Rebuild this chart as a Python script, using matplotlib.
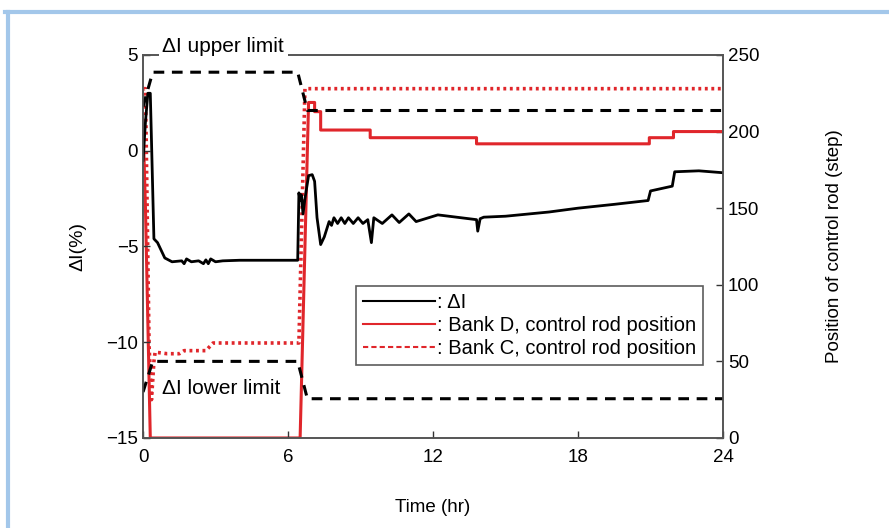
import matplotlib
matplotlib.use("Agg")
import matplotlib.pyplot as plt
from matplotlib.lines import Line2D

plt.rcParams['font.family'] = ['Liberation Sans', 'DejaVu Sans']

# delta I (%), left axis
t_di = [0, 0.1, 0.2, 0.3, 0.35, 0.45, 0.6, 0.9, 1.2, 1.6, 1.7, 1.8, 2.0, 2.3, 2.5, 2.6,
        2.7, 2.8, 3.0, 3.3, 4.0, 5.0, 6.4, 6.45, 6.5, 6.55, 6.62, 6.7, 6.85, 7.0, 7.1,
        7.2, 7.35, 7.5, 7.7, 7.8, 7.9, 8.05, 8.2, 8.35, 8.5, 8.7, 8.9, 9.1, 9.3, 9.45,
        9.55, 9.9, 10.3, 10.6, 11.0, 11.3, 12.2, 13.8, 13.85, 13.95, 14.1, 15.0, 16.8,
        18.0, 19.5, 20.9, 21.0, 21.9, 22.0, 23.0, 24.0]
di = [-0.5, 1.5, 3.0, 3.0, 0.5, -4.6, -4.8, -5.6, -5.8, -5.75, -5.9, -5.65, -5.8, -5.75,
      -5.9, -5.7, -5.9, -5.65, -5.8, -5.75, -5.72, -5.72, -5.72, -2.2, -2.6, -2.3, -3.3,
      -2.5, -1.3, -1.25, -1.6, -3.5, -4.9, -4.5, -3.7, -3.9, -3.5, -3.8, -3.5, -3.8,
      -3.5, -3.8, -3.5, -3.8, -3.6, -4.8, -3.5, -3.8, -3.35, -3.75, -3.3, -3.7, -3.35,
      -3.6, -4.2, -3.55, -3.47, -3.42, -3.2, -3.0, -2.8, -2.6, -2.1, -1.85, -1.1, -1.05,
      -1.15]

# delta I limits (%), left axis
t_lim = [0, 0.4, 6.4, 6.8, 24]
upper_lim = [2.3, 4.1, 4.1, 2.1, 2.1]
lower_lim = [-12.6, -11.0, -11.0, -12.95, -12.95]

# control rod positions (step), right axis
t_bank_d = [0, 0.1, 0.3, 6.5, 6.85, 7.1, 7.1, 7.35, 7.35, 9.4, 9.4, 13.8, 13.8, 20.95,
            20.95, 21.95, 21.95, 24]
bank_d = [205, 150, 0, 0, 219, 219, 213, 213, 201, 201, 196, 196, 192, 192, 196, 196,
          200, 200]
t_bank_c = [0, 0.1, 0.25, 0.35, 0.45, 0.5, 1.0, 1.5, 1.7, 2.6, 2.9, 6.45, 6.7, 24]
bank_c = [228, 228, 60, 25, 50, 56, 55, 55, 57, 57, 62, 62, 228, 228]

xticks = [0, 6, 12, 18, 24]
yticks_left = [-15, -10, -5, 0, 5]
yticks_right = [0, 50, 100, 150, 200, 250]

fig = plt.figure(figsize=(8.89, 5.28), dpi=100)
ax = fig.add_axes([0.1609, 0.1705, 0.6524, 0.7254])
ax2 = ax.twinx()

red = '#e0262b'
ax2.plot(t_bank_c, bank_c, color=red, lw=2.6, ls=(0, (0.8, 1.0)))
ax2.plot(t_bank_d, bank_d, color=red, lw=2.2)
ax.plot(t_lim, upper_lim, color='black', lw=2.2, ls=(0, (3.5, 2.5)))
ax.plot(t_lim, lower_lim, color='black', lw=2.2, ls=(0, (3.5, 2.5)))
ax.plot(t_di, di, color='black', lw=2.0)

ax.set_zorder(ax2.get_zorder() + 1)
ax.patch.set_visible(False)

ax.set_xlim(0, 24)
ax.set_ylim(-15, 5)
ax2.set_ylim(0, 250)
ax.set_xticks(xticks)
ax.set_yticks(yticks_left)
ax.set_yticklabels(['\u221215', '\u221210', '\u22125', '0', '5'])
ax2.set_yticks(yticks_right)
for a in (ax, ax2):
    a.tick_params(direction='in', length=5, width=1, labelsize=13.5, color='#333333')
    for s in a.spines.values():
        s.set_color('#555555')
        s.set_linewidth(1.2)
ax.tick_params(axis='x', pad=8)

ax.set_xlabel('Time (hr)', fontsize=13.5, labelpad=24)
ax.set_ylabel('\u0394I(%)', fontsize=14, labelpad=14)
ax2.set_ylabel('Position of control rod (step)', fontsize=13.5, labelpad=48)

ax.text(0.8, 5.45, '\u0394I upper limit', fontsize=15, va='center', ha='left',
        bbox=dict(facecolor='white', edgecolor='none', pad=2.5), zorder=5)
ax.text(0.8, -12.4, '\u0394I lower limit', fontsize=15, va='center', ha='left',
        bbox=dict(facecolor='white', edgecolor='none', pad=1.5), zorder=5)

handles = [Line2D([], [], color='black', lw=1.5),
           Line2D([], [], color=red, lw=1.5),
           Line2D([], [], color=red, lw=1.5, ls=(0, (2.5, 1.5)))]
labels = [': \u0394I', ': Bank D, control rod position', ': Bank C, control rod position']
leg = ax.legend(handles, labels, loc='upper right', bbox_to_anchor=(0.966, 0.398),
                fontsize=14.5, frameon=True, fancybox=False, handlelength=3.6,
                handletextpad=0.1, borderpad=0.35, labelspacing=0.2, borderaxespad=0)
leg.get_frame().set_edgecolor('#333333')
leg.get_frame().set_linewidth(1.2)

# light blue frame
fig.add_artist(Line2D([5 / 889, 1], [1 - 12 / 528, 1 - 12 / 528], color='#a3c7ea',
                      lw=3, transform=fig.transFigure))
fig.add_artist(Line2D([7.5 / 889, 7.5 / 889], [0, 1 - 12 / 528], color='#a3c7ea',
                      lw=3, transform=fig.transFigure))

fig.savefig('out.png', dpi=100)
